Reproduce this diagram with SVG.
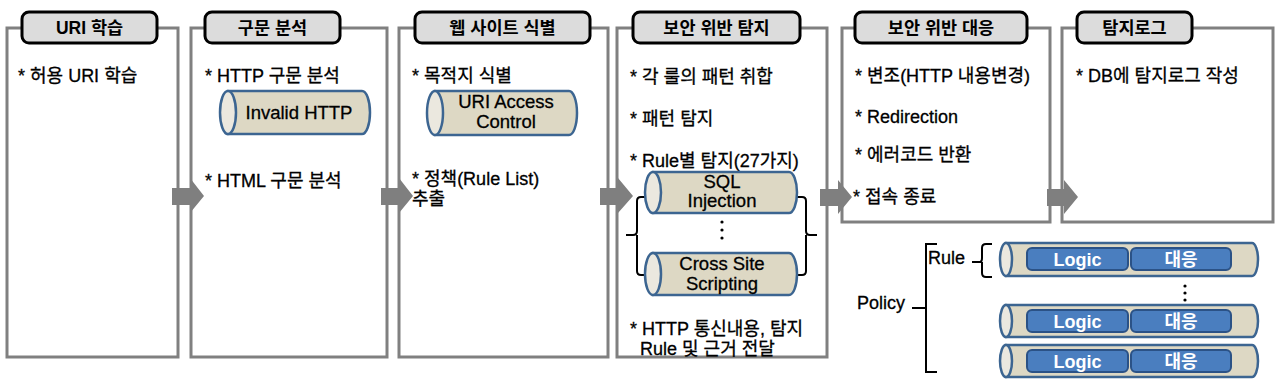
<svg xmlns="http://www.w3.org/2000/svg" width="1280" height="386" viewBox="0 0 1280 386">
<style>
.panel{fill:#fff;stroke:#808080;stroke-width:3}
.title{fill:#dcdcdc;stroke:#000;stroke-width:3}
.tt{font-family:"Liberation Sans","Noto Sans CJK KR",sans-serif;font-size:17.5px;font-weight:bold;text-anchor:middle;fill:#000}
.t{font-family:"Liberation Sans","Noto Sans CJK KR",sans-serif;font-size:18px;fill:#000;stroke:#000;stroke-width:0.3}
.ct{font-family:"Liberation Sans","Noto Sans CJK KR",sans-serif;font-size:18.5px;text-anchor:middle;fill:#000;stroke:#000;stroke-width:0.3}
.cyl{fill:#ddd8c4;stroke:#3c6591;stroke-width:2.5}
.cend{fill:#ebe8df;stroke:#3c6591;stroke-width:2.5}
.blue{fill:#4a7ebf;stroke:#2b5286;stroke-width:2}
.bt{font-family:"Liberation Sans","Noto Sans CJK KR",sans-serif;font-size:18px;font-weight:bold;text-anchor:middle;fill:#fff}
.arrow{fill:#7f7f7f}
.br{fill:none;stroke:#000;stroke-width:2}
</style>

<g id="panel-uri">
<rect class="panel" x="7" y="28" width="171" height="329"/>
<rect class="title" x="22" y="12" width="135" height="31" rx="7"/>
<text class="tt" x="89.5" y="34">URI 학습</text>
<text class="t" x="18" y="82">* 허용 URI 학습</text>
</g>

<g id="panel-parse">
<rect class="panel" x="191" y="28" width="196" height="329"/>
<rect class="title" x="205" y="12" width="135" height="31" rx="7"/>
<text class="tt" x="272.5" y="34">구문 분석</text>
<text class="t" x="205" y="82">* HTTP 구문 분석</text>
<path class="cyl" d="M228,91 H362 A8,21.5 0 0 1 362,134 H228 Z"/>
<ellipse class="cend" cx="228" cy="112.5" rx="8" ry="21.5"/>
<text class="ct" x="299" y="119">Invalid HTTP</text>
<text class="t" x="205" y="187">* HTML 구문 분석</text>
</g>

<g id="panel-site">
<rect class="panel" x="399" y="28" width="209" height="329"/>
<rect class="title" x="415" y="12" width="175" height="31" rx="7"/>
<text class="tt" x="502.5" y="34">웹 사이트 식별</text>
<text class="t" x="412" y="82">* 목적지 식별</text>
<path class="cyl" d="M435,91 H569 A8,22 0 0 1 569,135 H435 Z"/>
<ellipse class="cend" cx="435" cy="113" rx="8" ry="22"/>
<text class="ct" x="506" y="108">URI Access</text>
<text class="ct" x="506" y="128">Control</text>
<text class="t" x="412" y="185">* 정책(Rule List)</text>
<text class="t" x="412" y="205">추출</text>
</g>

<g id="panel-detect">
<rect class="panel" x="617" y="28" width="210" height="329"/>
<rect class="title" x="633" y="12" width="167" height="31" rx="7"/>
<text class="tt" x="716.5" y="34">보안 위반 탐지</text>
<text class="t" x="630" y="83">* 각 룰의 패턴 취합</text>
<text class="t" x="630" y="125">* 패턴 탐지</text>
<text class="t" x="630" y="167">* Rule별 탐지(27가지)</text>
<path class="br" d="M647,197 H641 Q637,197 637,201 V231 Q637,235 633,235 H626 M637,235 Q637,235 637,239 V271 Q637,275 641,275 H647"/>
<path class="br" d="M797,197 H802 Q806,197 806,201 V231 Q806,235 810,235 H817 M806,235 V271 Q806,275 802,275 H797"/>
<path class="cyl" d="M653,172 H789 A8,20.5 0 0 1 789,213 H653 Z"/>
<ellipse class="cend" cx="653" cy="192.5" rx="8" ry="20.5"/>
<text class="ct" x="722" y="188">SQL</text>
<text class="ct" x="722" y="207">Injection</text>
<circle cx="722" cy="222" r="1.6"/>
<circle cx="722" cy="230" r="1.6"/>
<circle cx="722" cy="238" r="1.6"/>
<path class="cyl" d="M653,253 H789 A8,21 0 0 1 789,295 H653 Z"/>
<ellipse class="cend" cx="653" cy="274" rx="8" ry="21"/>
<text class="ct" x="722" y="270">Cross Site</text>
<text class="ct" x="722" y="290">Scripting</text>
<text class="t" x="630" y="335">* HTTP 통신내용, 탐지</text>
<text class="t" x="640" y="355">Rule 및 근거 전달</text>
</g>

<g id="panel-respond">
<rect class="panel" x="842" y="28" width="208" height="194"/>
<rect class="title" x="855" y="12" width="172" height="31" rx="7"/>
<text class="tt" x="941" y="34">보안 위반 대응</text>
<text class="t" x="855" y="82">* 변조(HTTP 내용변경)</text>
<text class="t" x="855" y="123">* Redirection</text>
<text class="t" x="855" y="161">* 에러코드 반환</text>
<text class="t" x="853" y="203">* 접속 종료</text>
</g>

<g id="panel-log">
<rect class="panel" x="1062" y="28" width="211" height="194"/>
<rect class="title" x="1077" y="12" width="115" height="31" rx="7"/>
<text class="tt" x="1134.5" y="34">탐지로그</text>
<text class="t" x="1076" y="82">* DB에 탐지로그 작성</text>
</g>

<g id="connectors">
<polygon class="arrow" points="172,188 190,188 190,178 204,196 190,213 190,205 172,205"/>
<polygon class="arrow" points="381,188 399,188 399,178 413,196 399,213 399,205 381,205"/>
<polygon class="arrow" points="600,188 618,188 618,178 633,196 618,213 618,205 600,205"/>
<polygon class="arrow" points="820,189 838,189 838,180 852,197 838,214 838,206 820,206"/>
<polygon class="arrow" points="1047,189 1064,189 1064,180 1078,197 1064,214 1064,206 1047,206"/>
</g>

<g id="policy">
<text class="t" x="857" y="309">Policy</text>
<path class="br" d="M912,308 H926 M937,244 H926 V372 H937"/>
<text class="t" x="928" y="264">Rule</text>
<path class="br" d="M972,262 H980 Q982,262 982,258 V248 Q982,244 986,244 H992 M982,262 V273 Q982,277 986,277 H992"/>
</g>

<g id="rule-1">
<path class="cyl" d="M1006,243 H1252 A6,16.5 0 0 1 1252,276 H1006 Z"/>
<ellipse class="cend" cx="1006" cy="259.5" rx="6" ry="16.5"/>
<rect class="blue" x="1027" y="248" width="101" height="22" rx="5"/>
<text class="bt" x="1077.5" y="265.5">Logic</text>
<rect class="blue" x="1131" y="248" width="100" height="22" rx="5"/>
<text class="bt" x="1181" y="265.5">대응</text>
</g>
<g id="rule-dots">
<circle cx="1185" cy="286" r="1.6"/>
<circle cx="1185" cy="293" r="1.6"/>
<circle cx="1185" cy="300" r="1.6"/>
</g>
<g id="rule-2">
<path class="cyl" d="M1006,305 H1252 A6,16 0 0 1 1252,337 H1006 Z"/>
<ellipse class="cend" cx="1006" cy="321" rx="6" ry="16"/>
<rect class="blue" x="1027" y="310" width="101" height="22" rx="5"/>
<text class="bt" x="1077.5" y="327.5">Logic</text>
<rect class="blue" x="1131" y="310" width="100" height="22" rx="5"/>
<text class="bt" x="1181" y="327.5">대응</text>
</g>
<g id="rule-3">
<path class="cyl" d="M1006,345 H1252 A6,16 0 0 1 1252,377 H1006 Z"/>
<ellipse class="cend" cx="1006" cy="361" rx="6" ry="16"/>
<rect class="blue" x="1027" y="350" width="101" height="22" rx="5"/>
<text class="bt" x="1077.5" y="367.5">Logic</text>
<rect class="blue" x="1131" y="350" width="100" height="22" rx="5"/>
<text class="bt" x="1181" y="367.5">대응</text>
</g>
</svg>
